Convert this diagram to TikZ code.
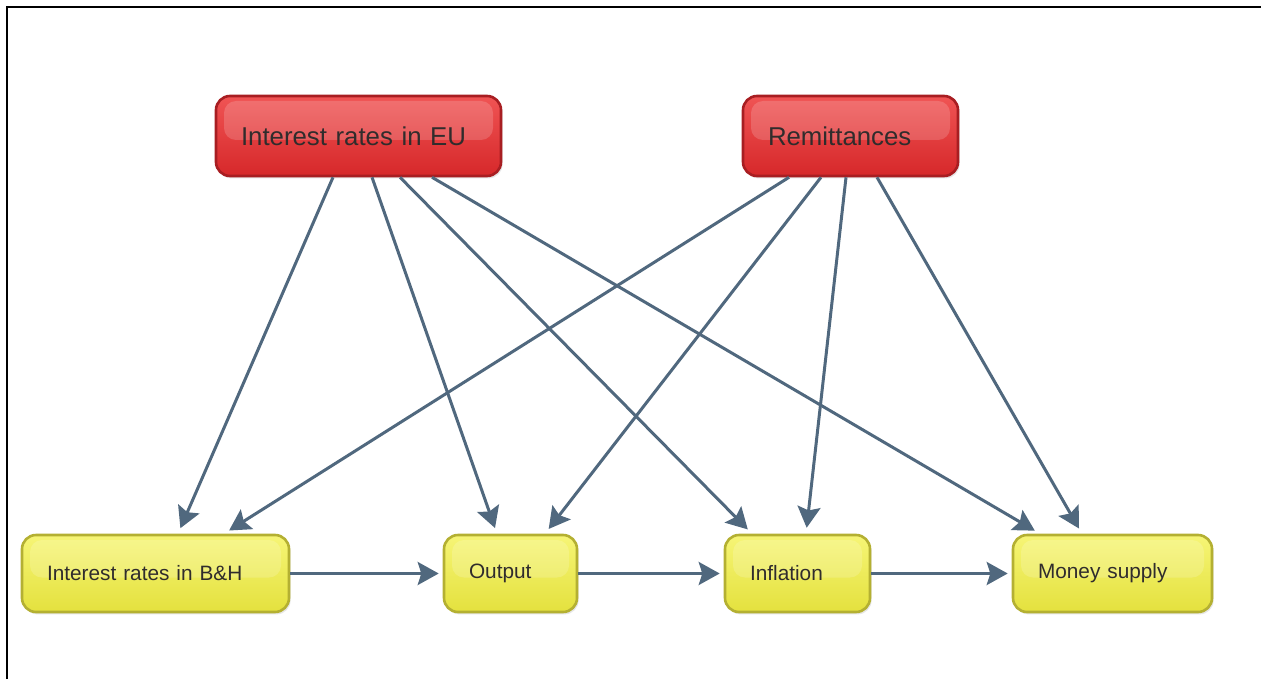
\documentclass[tikz,border=0pt]{standalone}
\usepackage{fontspec}
\setmainfont{Liberation Sans}
\usetikzlibrary{arrows.meta,shadows}

\definecolor{causetop}{RGB}{240,84,84}
\definecolor{causebottom}{RGB}{214,40,42}
\definecolor{causeborder}{RGB}{168,30,34}
\definecolor{effecttop}{RGB}{246,245,118}
\definecolor{effectbottom}{RGB}{228,225,62}
\definecolor{effectborder}{RGB}{180,176,50}
\definecolor{linkblue}{RGB}{80,104,126}
\definecolor{boxtext}{RGB}{48,44,44}

\tikzset{
  gloss/.style={path picture={
      \fill[white,opacity=0.17,rounded corners=6pt]
        ([shift={(4pt,-2.5pt)}]path picture bounding box.north west)
        rectangle ([shift={(-4pt,-2pt)}]path picture bounding box.east);}},
  box/.style={rounded corners=7pt, text=boxtext, align=left,
    inner xsep=12.5pt, gloss,
    drop shadow={opacity=0.2,shadow xshift=0.8pt,shadow yshift=-1.2pt}},
  cause/.style={box, draw=causeborder, line width=1.3pt,
    top color=causetop, bottom color=causebottom,
    font=\fontsize{12.9}{15}\selectfont, minimum height=40pt},
  effect/.style={box, draw=effectborder, line width=1.3pt,
    top color=effecttop, bottom color=effectbottom,
    font=\fontsize{10.4}{12}\selectfont, minimum height=38.5pt},
  link/.style={->, line width=1.5pt, draw=linkblue, shorten >=3pt}
}

\begin{document}
\begin{tikzpicture}[x=0.5pt,y=-0.5pt,
    >={Stealth[length=10.5pt,width=11.5pt,inset=1.8pt]}]
  \useasboundingbox (0,0) rectangle (1261,679);
  \draw[line width=1.3pt] (7,679) -- (7,7) -- (1261,7);

  \node[cause,text width=117.5pt] (eu) at (358.5,136) {Interest rates in EU};
  \node[cause,text width=82.5pt] (rem) at (850.5,136) {Remittances};

  \node[effect,text width=108.5pt] (bh) at (155.5,573.5) {Interest rates in B\&H};
  \node[effect,text width=41.5pt] (out) at (510.5,573.5) {Output};
  \node[effect,text width=47.5pt] (infl) at (797.5,573.5) {Inflation};
  \node[effect,text width=74.5pt] (money) at (1112.5,573.5) {Money supply};

  % chain along the bottom
  \draw[link,shorten >=2pt] (bh) -- (out);
  \draw[link,shorten >=2pt] (out) -- (infl);
  \draw[link,shorten >=2pt] (infl) -- (money);

  % EU rates
  \draw[link] ([xshift=-12.75pt]eu.south) -- ([xshift=11.25pt]bh.north);
  \draw[link] ([xshift=6.75pt]eu.south) -- ([xshift=-6.75pt]out.north);
  \draw[link] ([xshift=20.75pt]eu.south) -- ([xshift=-22.75pt]infl.north);
  \draw[link] ([xshift=36.75pt]eu.south) -- ([xshift=-36.25pt]money.north);

  % remittances
  \draw[link] ([xshift=-30.75pt]rem.south) -- ([xshift=34.25pt]bh.north);
  \draw[link] ([xshift=-14.75pt]rem.south) -- ([xshift=17.25pt]out.north);
  \draw[link] ([xshift=-2.25pt]rem.south) -- ([xshift=4.25pt]infl.north);
  \draw[link] ([xshift=13.25pt]rem.south) -- ([xshift=-15.25pt]money.north);
\end{tikzpicture}
\end{document}
